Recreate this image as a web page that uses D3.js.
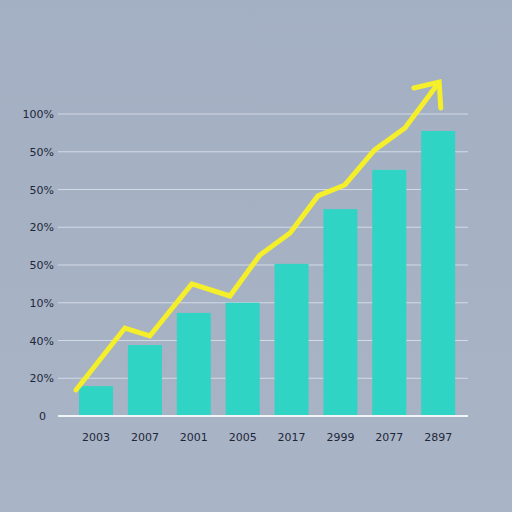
<!DOCTYPE html>
<html><head><meta charset="utf-8">
<script src="https://cdn.jsdelivr.net/npm/d3@7"></script>
<style>body{margin:0;}svg{display:block;}</style>
</head><body>
<svg id="chart" width="512" height="512"></svg>
<script>
// chart data
const years = ['2003', '2007', '2001', '2005', '2017', '2999', '2077', '2897'];
const barValues = [0.79, 1.88, 2.73, 3.0, 4.03, 5.48, 6.52, 7.55];
const yTickLabels = ['0', '20%', '40%', '10%', '50%', '20%', '50%', '50%', '100%'];
const lineX = [-0.41, 0.59, 1.10, 1.96, 2.74, 3.35, 3.97, 4.54, 5.09, 5.70, 6.32, 6.85];
const lineY = [0.69, 2.33, 2.12, 3.50, 3.18, 4.26, 4.85, 5.83, 6.12, 7.05, 7.63, 8.55];

const svg = d3.select('#chart');
const defs = svg.append('defs');
const bg = defs.append('linearGradient').attr('id', 'bg').attr('x1', 0).attr('y1', 0).attr('x2', 0).attr('y2', 1);
bg.append('stop').attr('offset', '0%').attr('stop-color', '#a3afc2');
bg.append('stop').attr('offset', '100%').attr('stop-color', '#a9b4c6');
svg.append('rect').attr('width', 512).attr('height', 512).attr('fill', 'url(#bg)');

const x = d3.scaleLinear().domain([-0.5, 7.5]).range([71.6, 462.6]);
const y = d3.scaleLinear().domain([0, 8]).range([416, 114]);

// gridlines
svg.append('g').selectAll('line').data(d3.range(1, 9)).join('line')
  .attr('x1', 58).attr('x2', 468)
  .attr('y1', d => y(d)).attr('y2', d => y(d))
  .attr('stroke', '#dfe5ee').attr('stroke-width', 1).attr('opacity', 0.8);

// y labels
svg.append('g').selectAll('text').data(yTickLabels).join('text')
  .attr('x', d => d === '0' ? 46 : 54).attr('y', (d, i) => y(i) + 4)
  .attr('text-anchor', 'end')
  .attr('font-family', 'DejaVu Sans, sans-serif').attr('font-size', 11)
  .attr('fill', '#1e2738').text(d => d);

// bars
svg.append('g').selectAll('rect').data(barValues).join('rect')
  .attr('x', (d, i) => x(i) - 17).attr('width', 34)
  .attr('y', d => y(d)).attr('height', d => y(0) - y(d))
  .attr('fill', '#2fd4c4');

// baseline
svg.append('line').attr('x1', 58).attr('x2', 468).attr('y1', y(0)).attr('y2', y(0))
  .attr('stroke', '#f2f5f8').attr('stroke-width', 2);

// x labels
svg.append('g').selectAll('text').data(years).join('text')
  .attr('x', (d, i) => x(i)).attr('y', 441)
  .attr('text-anchor', 'middle')
  .attr('font-family', 'DejaVu Sans, sans-serif').attr('font-size', 11)
  .attr('fill', '#1e2738').text(d => d);

// trend line with arrow
const pts = lineX.map((v, i) => [x(v), y(lineY[i])]);
svg.append('path').datum(pts)
  .attr('d', d3.line())
  .attr('fill', 'none').attr('stroke', '#f4ef2a').attr('stroke-width', 5)
  .attr('stroke-linejoin', 'miter').attr('stroke-linecap', 'round');

const last = pts[pts.length - 1], prev = pts[pts.length - 2];
const ang = Math.atan2(last[1] - prev[1], last[0] - prev[0]);
const tip = [last[0] + 14 * Math.cos(ang), last[1] + 14 * Math.sin(ang)];
const side = (a, l) => [tip[0] - l * Math.cos(ang + a), tip[1] - l * Math.sin(ang + a)];
svg.append('polyline')
  .attr('points', [side(0.7, 26), tip, side(-0.7, 26)].map(p => p.join(',')).join(' '))
  .attr('fill', 'none').attr('stroke', '#f4ef2a').attr('stroke-width', 5)
  .attr('stroke-linejoin', 'miter').attr('stroke-linecap', 'round');
svg.append('line').attr('x1', last[0]).attr('y1', last[1]).attr('x2', tip[0]).attr('y2', tip[1])
  .attr('stroke', '#f4ef2a').attr('stroke-width', 5);
</script>
</body></html>
